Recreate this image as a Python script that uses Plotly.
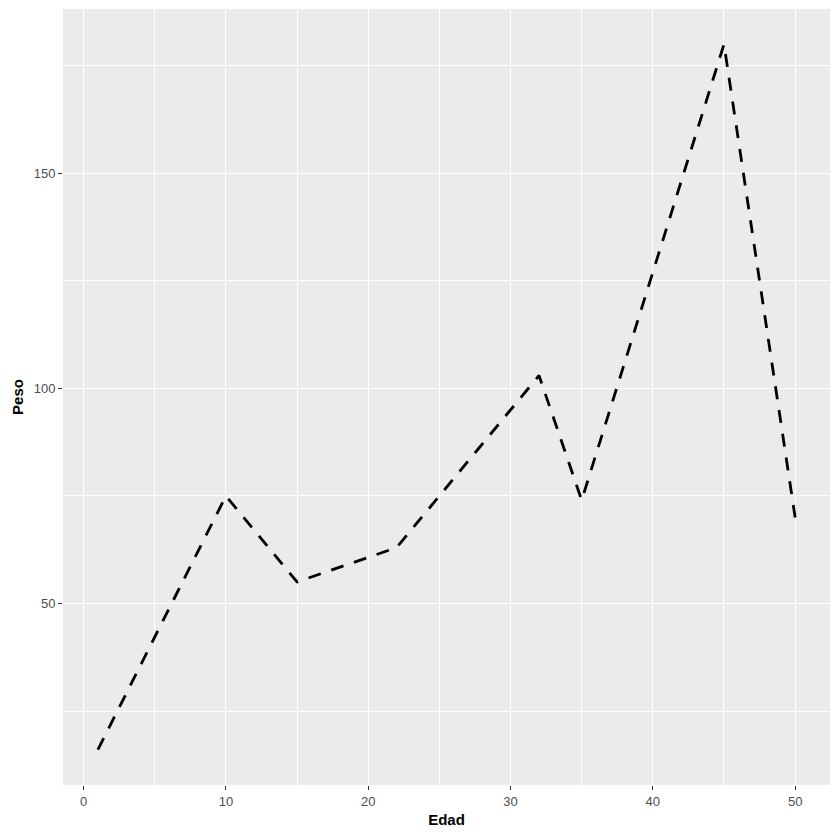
import plotly.graph_objects as go

edad = [1, 10, 15, 22, 32, 35, 45, 50]
peso = [16, 75, 55, 63, 103, 74, 180, 70]

x_ticks = [0, 10, 20, 30, 40, 50]
y_ticks = [50, 100, 150]

fig = go.Figure()
fig.add_trace(go.Scatter(
    x=edad, y=peso, mode="lines",
    line=dict(color="black", width=2.8, dash="13px,11px"),
    showlegend=False,
))

font_family = "Liberation Sans, Arial, sans-serif"
xmin, xmax = min(edad), max(edad)
ymin, ymax = min(peso), max(peso)
xr = (xmax - xmin) * 0.05
yr = (ymax - ymin) * 0.05

axis_common = dict(
    showgrid=True, gridcolor="white", gridwidth=1.1,
    zeroline=False, showline=False, automargin=False,
    ticks="outside", ticklen=4, tickcolor="#333333", tickwidth=1,
    tickfont=dict(family=font_family, size=13, color="#4D4D4D"),
)

fig.update_layout(
    width=832, height=832,
    margin=dict(l=55, r=10, t=1, b=55),
    paper_bgcolor="white", plot_bgcolor="#EBEBEB",
    font=dict(family=font_family),
    xaxis=dict(
        range=[xmin - xr, xmax + xr],
        tickvals=x_ticks,
        minor=dict(dtick=5, tick0=5, showgrid=True, gridcolor="white", gridwidth=0.5, ticks=""),
        title=dict(text="<b>Edad</b>", font=dict(family=font_family, size=15, color="black"), standoff=6),
        **axis_common,
    ),
    yaxis=dict(
        range=[ymin - yr, ymax + yr],
        tickvals=y_ticks,
        minor=dict(dtick=25, tick0=25, showgrid=True, gridcolor="white", gridwidth=0.5, ticks=""),
        title=dict(text="<b>Peso</b>", font=dict(family=font_family, size=15, color="black"), standoff=6),
        **axis_common,
    ),
)

fig.write_html("out.html")
